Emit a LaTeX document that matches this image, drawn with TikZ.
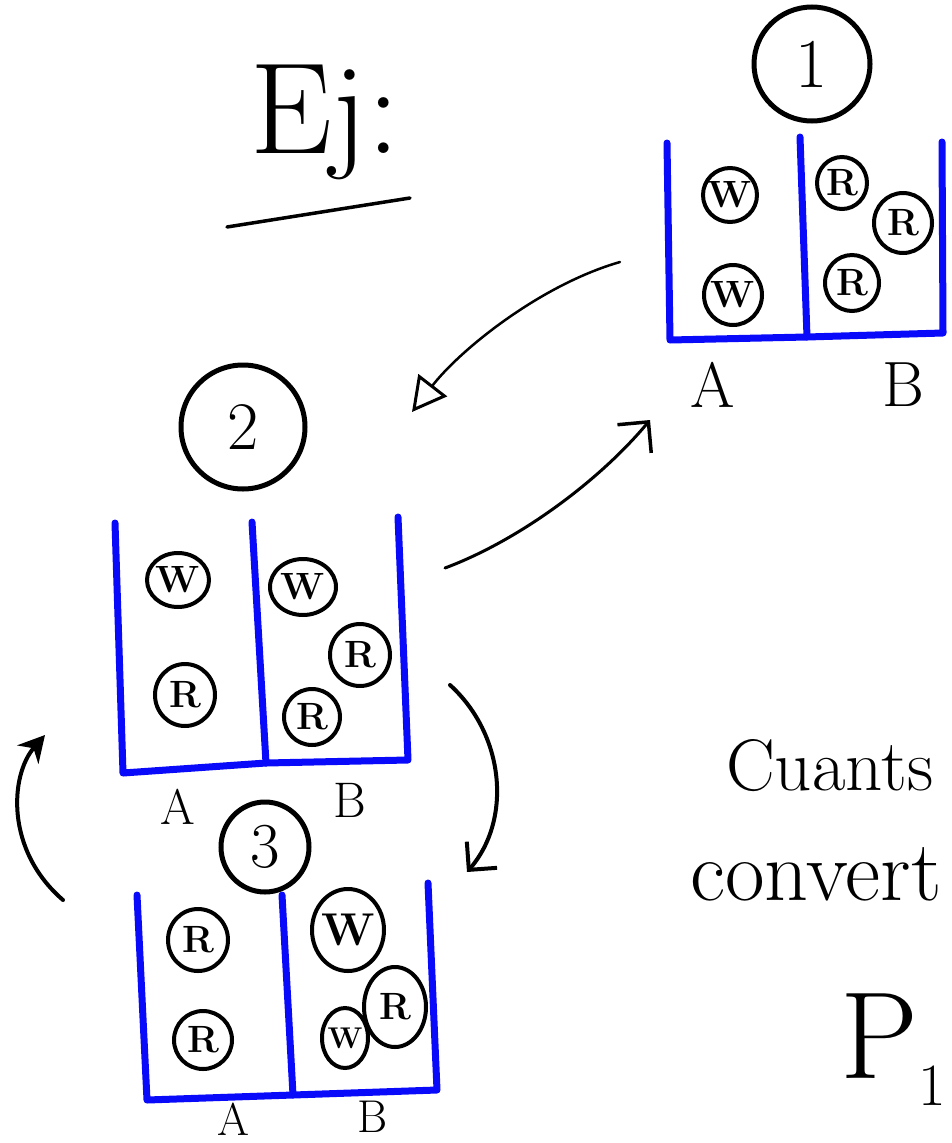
\documentclass[tikz,border=0pt]{standalone}
\usepackage{fontspec}
\usetikzlibrary{arrows.meta,shapes.geometric}
\definecolor{wallblue}{RGB}{10,10,250}
\tikzset{
  wall/.style={draw=wallblue,line width=7pt,line cap=round,line join=round},
  ball/.style={draw,ellipse,line width=4pt,inner sep=-8pt,font=\fontsize{38}{38}\selectfont\bfseries},
  numring/.style={draw,ellipse,line width=5pt,inner sep=-10pt},
  lbl/.style={inner sep=0pt,font=\fontsize{50}{50}\selectfont},
  conn/.style={line width=3.5pt,line cap=round},
}
\begin{document}
\begin{tikzpicture}[x=1pt,y=-1pt]
\useasboundingbox (0,0) rectangle (952,1143);

% ---------- heading ----------
\node[anchor=base west,inner sep=0pt,font=\fontsize{130}{130}\selectfont] (ej) at (250,153) {Ej:};
\coordinate (ul1) at (227,227);
\coordinate (ul2) at (410,198);
\draw[conn] (ul1) -- (ul2);

% ---------- state 1 ----------
\node[numring,minimum width=116pt,minimum height=114pt,font=\fontsize{70}{70}\selectfont] (n1) at (812,64) {1};
\draw[wall] (667,143) -- (670,340) -- (807,337) -- (800,137);
\draw[wall] (807,337) -- (943,333) -- (942,142);
\node[ball,minimum width=54pt,minimum height=54pt] (b1w1) at (730,195) {W};
\node[ball,minimum width=58pt,minimum height=60pt] (b1w2) at (733,295) {W};
\node[ball,minimum width=50pt,minimum height=52pt] (b1r1) at (842,183) {R};
\node[ball,minimum width=58pt,minimum height=60pt] (b1r2) at (903,223) {R};
\node[ball,minimum width=54pt,minimum height=56pt] (b1r3) at (852,283) {R};
\node[lbl,font=\fontsize{64}{64}\selectfont] (la1) at (713,385) {A};
\node[lbl,font=\fontsize{64}{64}\selectfont] (lb1) at (903,385) {B};

% ---------- state 2 ----------
\node[numring,minimum width=124pt,minimum height=124pt,font=\fontsize{68}{68}\selectfont] (n2) at (243,427) {2};
\draw[wall] (115,523) -- (123,773) -- (266,763) -- (252,522);
\draw[wall] (266,763) -- (408,760) -- (398,517);
\node[ball,minimum width=62pt,minimum height=54pt] (b2w1) at (178,580) {W};
\node[ball,minimum width=60pt,minimum height=62pt] (b2r1) at (185,695) {R};
\node[ball,minimum width=66pt,minimum height=56pt] (b2w2) at (303,587) {W};
\node[ball,minimum width=60pt,minimum height=62pt] (b2r2) at (360,655) {R};
\node[ball,minimum width=56pt,minimum height=56pt] (b2r3) at (312,717) {R};
\node[lbl] (la2) at (178,807) {A};
\node[lbl] (lb2) at (350,800) {B};

% ---------- state 3 ----------
\node[numring,minimum width=88pt,minimum height=90pt,font=\fontsize{64}{64}\selectfont] (n3) at (265,847) {3};
\draw[wall] (137,895) -- (147,1100) -- (293,1095) -- (282,895);
\draw[wall] (293,1095) -- (437,1090) -- (428,883);
\node[ball,minimum width=60pt,minimum height=62pt] (b3r1) at (198,940) {R};
\node[ball,minimum width=58pt,minimum height=58pt] (b3r2) at (203,1040) {R};
\node[ball,minimum width=72pt,minimum height=82pt,font=\fontsize{46}{46}\selectfont\bfseries] (b3w1) at (348,930) {W};
\node[ball,minimum width=62pt,minimum height=80pt] (b3r3) at (395,1007) {R};
\node[ball,minimum width=46pt,minimum height=60pt,font=\fontsize{30}{30}\selectfont\bfseries] (b3w2) at (345,1038) {W};
\node[lbl,font=\fontsize{46}{46}\selectfont] (la3) at (233,1119) {A};
\node[lbl,font=\fontsize{46}{46}\selectfont] (lb3) at (373,1117) {B};

% ---------- transitions ----------
\coordinate (a12s) at (620,262);
\coordinate (a12e) at (412,412);
\draw[conn,line width=2.5pt,-{Triangle[open,length=34pt,width=36pt,line width=3pt]}]
  (a12s) .. controls (540,285) and (460,350) .. (a12e);

\coordinate (a21s) at (445,568);
\coordinate (a21e) at (650,420);
\draw[conn,line width=3pt,-{Straight Barb[length=22pt,width=44pt,line width=3.5pt]}]
  (a21s) .. controls (520,540) and (600,480) .. (a21e);

\coordinate (a23s) at (450,685);
\coordinate (a23e) at (467,872);
\draw[conn,line width=4pt,-{Straight Barb[length=20pt,width=40pt]}]
  (a23s) .. controls (505,735) and (512,820) .. (a23e);

\coordinate (a32s) at (63,900);
\coordinate (a32e) at (45,735);
\draw[conn,line width=4pt,-{Stealth[length=26pt,width=28pt]}]
  (a32s) .. controls (5,850) and (10,775) .. (a32e);

% ---------- question ----------
\node[anchor=base west,inner sep=0pt,font=\fontsize{73}{73}\selectfont] (cu) at (726,790) {Cuants};
\node[anchor=base west,inner sep=0pt,font=\fontsize{86}{86}\selectfont] (co) at (690,900) {convert};
\node[anchor=base east,inner sep=0pt,font=\fontsize{124}{124}\selectfont] (p1) at (946,1078)
  {P\raisebox{-0.22em}{\fontsize{60}{60}\selectfont 1}};
\end{tikzpicture}
\end{document}
